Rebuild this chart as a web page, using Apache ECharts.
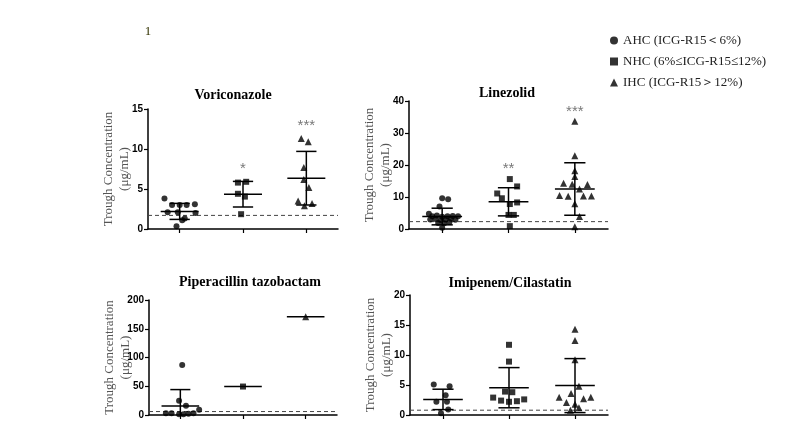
<!DOCTYPE html>
<html>
<head>
<meta charset="utf-8">
<script src="https://cdn.jsdelivr.net/npm/echarts@6/dist/echarts.min.js"></script>
<style>
  html, body { margin: 0; padding: 0; background: #fff; }
  #main { width: 794px; height: 447px; }
</style>
</head>
<body>
<div id="main"></div>
<script>
// groups (legend) and panels
var groups = ['AHC (ICG-R15＜6%)', 'NHC (6%≤ICG-R15≤12%)', 'IHC (ICG-R15＞12%)'];
var drugs = ['Voriconazole', 'Linezolid', 'Piperacillin tazobactam', 'Imipenem/Cilastatin'];
var yMax = [15, 40, 200, 20];
var yStep = [5, 10, 50, 5];
var cutoff = [1.7, 2.3, 6, 0.8];

// Voriconazole trough values per group + horizontal jitter (in category units)
var vorValues = [
  [3.8, 3.0, 3.0, 3.0, 3.1, 2.1, 2.1, 2.0, 1.3, 1.1, 0.35],
  [5.8, 5.9, 4.4, 4.05, 1.85],
  [11.3, 10.9, 7.7, 6.2, 5.2, 3.5, 3.2, 2.9]
];
var vorJitter = [
  [-0.24, -0.12, 0, 0.11, 0.24, -0.19, -0.03, 0.25, 0.08, 0.04, -0.05],
  [-0.08, 0.05, -0.08, 0.03, -0.03],
  [-0.08, 0.03, -0.04, -0.04, 0.04, -0.13, 0.09, -0.03]
];
var vorMean = [2.2, 4.35, 6.35];
var vorSD = [1.0, 1.6, 3.35];
var vorSig = ['', '*', '***'];
var vorSigY = [0, 7.9, 13.3];

// Linezolid
var linValues = [
  [9.6, 9.3, 7.0, 4.8, 4.0, 4.2, 3.8, 4.0, 4.1, 4.0, 3.0, 3.1, 2.8, 3.0, 3.2, 2.9, 1.9, 1.8, 2.2, 0.4],
  [15.6, 11.1, 13.3, 9.6, 7.8, 8.3, 4.4, 4.4, 0.9],
  [33.7, 22.9, 18.2, 16.4, 14.3, 14.0, 13.9, 12.5, 10.5, 10.2, 10.3, 10.3, 7.9, 3.9, 0.7]
];
var linJitter = [
  [0, 0.09, -0.04, -0.2, -0.15, -0.08, 0, 0.08, 0.16, 0.24, -0.18, -0.1, -0.02, 0.05, 0.13, 0.2, -0.06, 0.03, 0.11, 0],
  [0.02, -0.17, 0.13, -0.1, 0.02, 0.13, 0, 0.08, 0.02],
  [0, 0, 0, 0, -0.17, -0.04, 0.19, 0.07, -0.23, -0.1, 0.13, 0.25, 0, 0.07, 0]
];
var linMean = [3.9, 8.5, 12.5];
var linSD = [2.6, 4.4, 8.2];
var linSig = ['', '**', '***'];
var linSigY = [0, 19.7, 37.7];

// Piperacillin tazobactam
var pipValues = [
  [87, 25, 16, 3, 3, 1.5, 1.5, 2, 3, 9],
  [49.5],
  [171]
];
var pipJitter = [
  [0.03, -0.02, 0.09, -0.23, -0.14, -0.02, 0.05, 0.13, 0.21, 0.3],
  [0],
  [0]
];
var pipMean = [15.7, 49.5, 171];
var pipSD = [28.5, 0, 0];

// Imipenem/Cilastatin
var imiValues = [
  [5.1, 4.8, 3.3, 2.2, 2.2, 0.9, 0.3],
  [11.7, 8.9, 3.9, 3.8, 2.9, 2.4, 2.2, 2.3, 2.6],
  [14.3, 12.4, 9.2, 4.8, 2.95, 3.6, 2.7, 2.95, 2.1, 1.8, 1.2, 0.8]
];
var imiJitter = [
  [-0.14, 0.1, 0.04, -0.1, 0.06, 0.08, -0.03],
  [0, 0, -0.06, 0.05, -0.24, -0.12, 0, 0.12, 0.23],
  [0, 0, 0, 0.06, -0.24, -0.06, 0.13, 0.24, -0.13, 0, 0.06, -0.07]
];
var imiMean = [2.6, 4.55, 4.9];
var imiSD = [1.7, 3.35, 4.5];

var panelValues = [vorValues, linValues, pipValues, imiValues];
var panelJitter = [vorJitter, linJitter, pipJitter, imiJitter];
var panelMean = [vorMean, linMean, pipMean, imiMean];
var panelSD = [vorSD, linSD, pipSD, imiSD];
var panelSig = [vorSig, linSig, null, null];
var panelSigY = [vorSigY, linSigY, null, null];

var symbols = ['circle', 'rect', 'triangle'];
var symSizes = [6, 6, 7];

var serif = "'Times New Roman', 'Liberation Serif', serif";
var sans = "Arial, 'Liberation Sans', sans-serif";

var grids = [
  { left: 148, top: 109, width: 190, height: 120 },
  { left: 409, top: 101, width: 199, height: 128 },
  { left: 149, top: 300, width: 188, height: 115 },
  { left: 410, top: 295, width: 198, height: 120 }
];
var titlePos = [[233, 95], [507, 93], [250, 282], [510, 283]];

var chart = echarts.init(document.getElementById('main'), null, { renderer: 'canvas' });

var xAxes = [], yAxes = [], series = [], graphics = [];

function errorBars(params, api) {
  var x = api.value(0), m = api.value(1), lo = api.value(2), hi = api.value(3);
  var pm = api.coord([x, m]);
  var pl = api.coord([x, lo]);
  var ph = api.coord([x, hi]);
  var unit = api.size([1, 0])[0];
  var mh = unit * 0.3, ch = unit * 0.16;
  var st = { stroke: '#000', lineWidth: 1.5 };
  var kids = [
    { type: 'line', shape: { x1: pm[0] - mh, y1: pm[1], x2: pm[0] + mh, y2: pm[1] }, style: st }
  ];
  if (hi > lo) {
    kids.push({ type: 'line', shape: { x1: ph[0], y1: ph[1], x2: pl[0], y2: pl[1] }, style: st });
    kids.push({ type: 'line', shape: { x1: ph[0] - ch, y1: ph[1], x2: ph[0] + ch, y2: ph[1] }, style: st });
    if (lo > 0) {
      kids.push({ type: 'line', shape: { x1: pl[0] - ch, y1: pl[1], x2: pl[0] + ch, y2: pl[1] }, style: st });
    }
  }
  return { type: 'group', children: kids };
}

for (var p = 0; p < 4; p++) {
  xAxes.push({
    type: 'category', gridIndex: p, data: ['', '', ''], boundaryGap: true,
    axisLine: { onZero: false, lineStyle: { color: '#000', width: 1.5 } },
    axisTick: { show: true, alignWithLabel: true, length: 4, lineStyle: { color: '#000', width: 1.2 } },
    axisLabel: { show: false },
    splitLine: { show: false }
  });
  xAxes.push({
    type: 'value', gridIndex: p, min: -0.5, max: 2.5, show: false, splitLine: { show: false }
  });
  yAxes.push({
    type: 'value', gridIndex: p, min: 0, max: yMax[p], interval: yStep[p],
    name: 'Trough Concentration\n(μg/mL)', nameLocation: 'middle', nameRotate: 90, nameGap: 15,
    nameMoveOverlap: false,
    nameTextStyle: { fontFamily: serif, fontSize: 13, color: '#555', lineHeight: 16 },
    axisLine: { show: true, onZero: false, lineStyle: { color: '#000', width: 1.5 } },
    axisTick: { show: true, length: 4, lineStyle: { color: '#000', width: 1.2 } },
    axisLabel: { fontFamily: sans, fontWeight: 'bold', fontSize: 10, color: '#000', margin: 5 },
    splitLine: { show: false }
  });

  // dashed cutoff line
  series.push({
    type: 'line', xAxisIndex: 2 * p + 1, yAxisIndex: p, symbol: 'none', silent: true,
    data: [[-0.5, cutoff[p]], [2.5, cutoff[p]]],
    lineStyle: { color: '#444', width: 1, type: [4, 3] }, z: 1
  });

  // mean +/- SD
  var bars = [];
  for (var g = 0; g < 3; g++) {
    var m = panelMean[p][g], s = panelSD[p][g];
    bars.push([g, m, Math.max(0, m - s), m + s]);
  }
  series.push({
    type: 'custom', xAxisIndex: 2 * p + 1, yAxisIndex: p, renderItem: errorBars,
    data: bars, silent: true, z: 2
  });

  // individual points
  for (var g2 = 0; g2 < 3; g2++) {
    var pts = panelValues[p][g2].map(function (v, i) {
      return [g2 + panelJitter[p][g2][i], v];
    });
    series.push({
      name: groups[g2], type: 'scatter', xAxisIndex: 2 * p + 1, yAxisIndex: p,
      symbol: symbols[g2], symbolSize: symSizes[g2],
      itemStyle: { color: '#000' }, data: pts, z: 3
    });
  }

  // significance marks
  if (panelSig[p]) {
    var sig = [];
    for (var g3 = 0; g3 < 3; g3++) {
      if (panelSig[p][g3]) sig.push({ value: [g3, panelSigY[p][g3]], txt: panelSig[p][g3] });
    }
    series.push({
      type: 'scatter', xAxisIndex: 2 * p + 1, yAxisIndex: p, symbolSize: 0, silent: true,
      data: sig,
      label: {
        show: true, position: 'inside', offset: [0, 3],
        formatter: function (d) { return d.data.txt; },
        fontFamily: sans, fontSize: 15, color: '#555'
      }, z: 4
    });
  }

  graphics.push({
    type: 'text', x: titlePos[p][0], y: titlePos[p][1],
    style: {
      text: drugs[p], fontFamily: serif, fontWeight: 'bold', fontSize: 14,
      fill: '#000', align: 'center', verticalAlign: 'middle'
    }
  });
}

graphics.push({
  type: 'text', x: 148, y: 32,
  style: { text: '1', fontFamily: serif, fontSize: 13, fill: '#333300', align: 'center', verticalAlign: 'middle' }
});

var option = {
  backgroundColor: '#ffffff',
  animation: false,
  grid: grids,
  xAxis: xAxes,
  yAxis: yAxes,
  legend: {
    orient: 'vertical', left: 605, top: 29, itemWidth: 8, itemHeight: 8, itemGap: 8,
    selectedMode: false,
    data: [
      { name: groups[0], icon: 'circle' },
      { name: groups[1], icon: 'rect' },
      { name: groups[2], icon: 'triangle' }
    ],
    textStyle: { fontFamily: serif, fontSize: 13, color: '#222' }
  },
  graphic: graphics,
  series: series
};

chart.setOption(option);
</script>
</body>
</html>
